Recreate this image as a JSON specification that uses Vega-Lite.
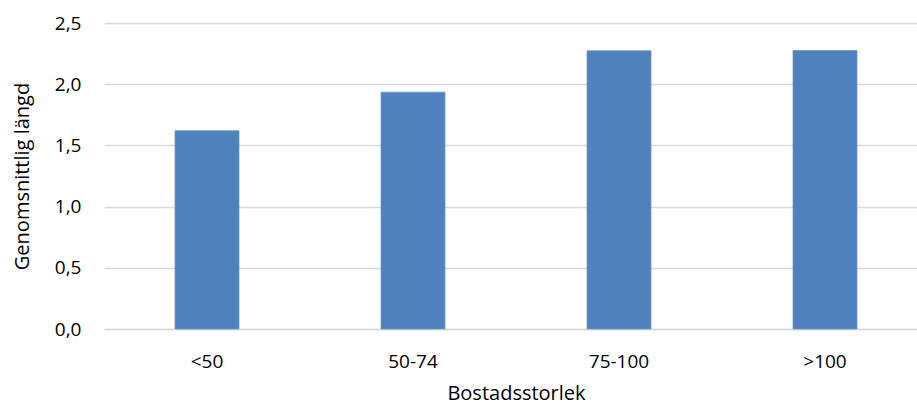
{
  "$schema": "https://vega.github.io/schema/vega-lite/v6.json",
  "autosize": "none",
  "width": 824,
  "height": 306,
  "padding": {"left": 104, "top": 23, "right": 0, "bottom": 81},
  "background": "white",
  "config": {
    "view": {"stroke": null},
    "font": "Open Sans"
  },
  "data": {
    "values": [
      {"storlek": "<50", "langd": 1.62},
      {"storlek": "50-74", "langd": 1.935},
      {"storlek": "75-100", "langd": 2.273},
      {"storlek": ">100", "langd": 2.275}
    ]
  },
  "mark": {"type": "bar", "size": 64, "color": "#4f81bd", "stroke": "#6f98cc", "strokeWidth": 0.8},
  "encoding": {
    "x": {
      "field": "storlek",
      "type": "nominal",
      "sort": null,
      "scale": {"paddingInner": 0, "paddingOuter": 0},
      "axis": {
        "title": "Bostadsstorlek",
        "titleFont": "Open Sans",
        "titleFontSize": 20,
        "titleFontWeight": "normal",
        "titleColor": "#000000",
        "titleX": 412,
        "titleY": 64,
        "titleBaseline": "middle",
        "labelAngle": 0,
        "labelFontSize": 19,
        "labelColor": "#000000",
        "labelPadding": 23,
        "ticks": false,
        "domainColor": "#d9d9d9",
        "domainWidth": 1.5
      }
    },
    "y": {
      "field": "langd",
      "type": "quantitative",
      "scale": {"domain": [0, 2.5], "nice": false},
      "axis": {
        "title": "Genomsnittlig längd",
        "titleFont": "Open Sans",
        "titleFontSize": 20,
        "titleFontWeight": "normal",
        "titleColor": "#000000",
        "titleX": -82,
        "titleBaseline": "middle",
        "values": [0, 0.5, 1, 1.5, 2, 2.5],
        "labelExpr": "replace(format(datum.value, '.1f'), '.', ',')",
        "labelFontSize": 19,
        "labelColor": "#000000",
        "labelPadding": 23,
        "ticks": false,
        "domain": false,
        "gridColor": "#d9d9d9",
        "gridWidth": 1.5
      }
    }
  }
}
